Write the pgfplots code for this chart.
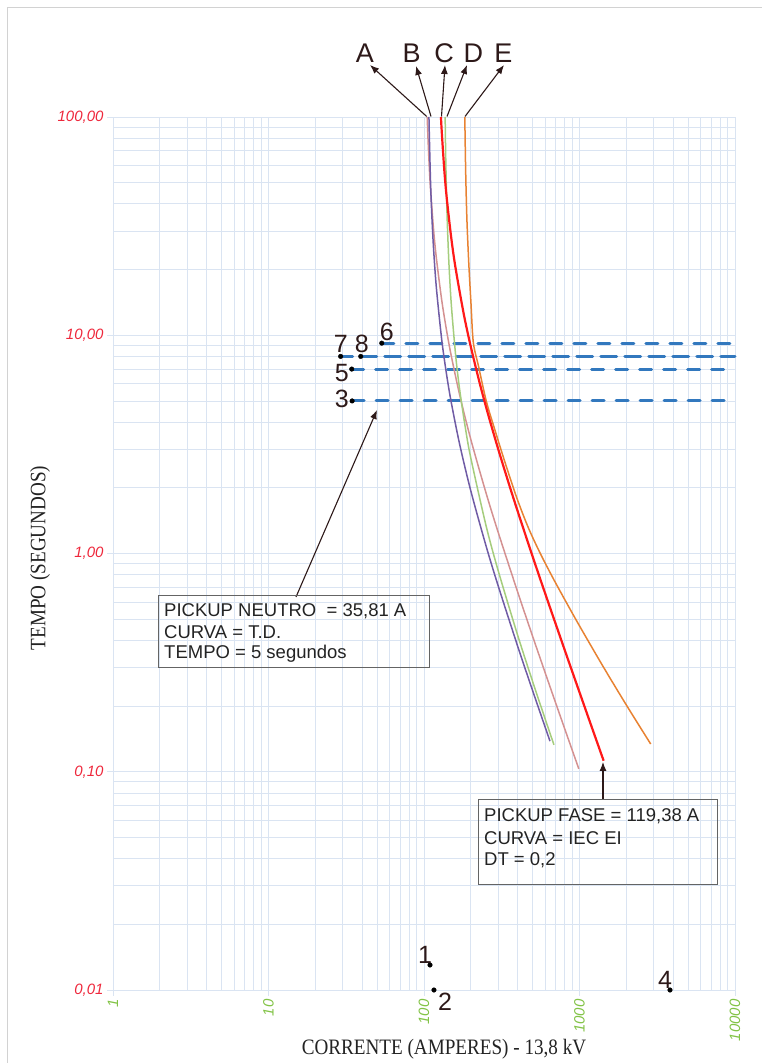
\documentclass[border=0pt]{standalone}
\usepackage{graphicx}
\usepackage{pgfplots}
\pgfplotsset{compat=1.18}
\usepackage{fontspec}
\setmainfont{Liberation Sans}
\newfontfamily\timesf{Liberation Serif}
\usetikzlibrary{arrows.meta}
\definecolor{gridc}{RGB}{218,228,242}
\definecolor{tickred}{RGB}{238,40,60}
\definecolor{tickgreen}{RGB}{130,195,70}
\definecolor{cA}{RGB}{212,145,145}
\definecolor{cB}{RGB}{112,92,165}
\definecolor{cC}{RGB}{255,25,25}
\definecolor{cD}{RGB}{165,205,125}
\definecolor{cE}{RGB}{232,130,50}
\definecolor{dashb}{RGB}{50,120,190}
\definecolor{annot}{RGB}{45,25,25}
\definecolor{txt}{RGB}{35,35,35}
\definecolor{boxc}{RGB}{100,100,100}
\begin{document}
\begin{tikzpicture}
\useasboundingbox (0,0) rectangle (762pt,1063pt);
\begin{axis}[
  at={(113pt,73pt)}, anchor=south west, scale only axis,
  width=622pt, height=873pt,
  xmode=log, ymode=log,
  xmin=1, xmax=10000, ymin=0.01, ymax=100,
  axis lines*=left,
  axis line style={gridc, line width=0.8pt},
  grid=both,
  major grid style={gridc, line width=0.8pt},
  minor grid style={gridc, line width=0.8pt},
  xtick={1,10,100,1000,10000},
  xticklabels={1,10,100,1000,10000},
  minor xtick={2,3,4,5,6,7,8,9,20,30,40,50,60,70,80,90,200,300,400,500,600,700,800,900,2000,3000,4000,5000,6000,7000,8000,9000},
  ytick={0.01,0.1,1,10,100},
  yticklabels={{0,01},{0,10},{1,00},{10,00},{100,00}},
  minor ytick={0.02,0.03,0.04,0.05,0.06,0.07,0.08,0.09,0.2,0.3,0.4,0.5,0.6,0.7,0.8,0.9,2,3,4,5,6,7,8,9,20,30,40,50,60,70,80,90},
  tick style={gridc, line width=0.8pt},
  major tick length=6pt, minor tick length=0pt, tick align=outside,
  yticklabel style={font=\fontsize{15}{15}\selectfont\itshape, text=tickred},
  xticklabel style={font=\fontsize{15}{15}\selectfont\itshape, text=tickgreen, rotate=90, anchor=east},
  clip=false,
]
% dashed horizontal lines (neutral)
\addplot[dashb, line width=3pt, line cap=round, dash pattern=on 12pt off 12pt] coordinates {(53.5,9.2) (10000,9.2)};
\addplot[dashb, line width=3pt, line cap=round, dash pattern=on 12pt off 12pt] coordinates {(29.1,8) (10000,8)};
\addplot[dashb, line width=3pt, line cap=round, dash pattern=on 12pt off 12pt] coordinates {(39.2,8) (10000,8)};
\addplot[dashb, line width=3pt, line cap=round, dash pattern=on 12pt off 12pt] coordinates {(34.3,7) (10000,7)};
\addplot[dashb, line width=3pt, line cap=round, dash pattern=on 12pt off 12pt] coordinates {(34.5,5) (10000,5)};
% A
\addplot[cA, line width=1.5pt, smooth] coordinates {
(104.88,100) (106,80.9) (108,60.1) (110,47.6) (115,31.0) (120,22.7) (130,14.49) (140,10.42) (150,8.0) (170,5.29) (200,3.333) (250,1.905) (300,1.25) (400,0.667) (500,0.4167) (600,0.2857) (700,0.2083) (800,0.1587) (900,0.125) (990,0.1031)};
% B
\addplot[cB, line width=1.5pt, smooth] coordinates {
(107.64,100) (108,87.8) (110,52.2) (112,36.9) (115,25.5) (120,16.63) (130,9.55) (140,6.544) (150,4.890) (170,3.139) (200,1.937) (250,1.090) (300,0.7106) (400,0.3767) (500,0.2348) (646,0.1381)};
% D
\addplot[cD, line width=1.5pt, smooth] coordinates {
(136.81,100) (137.3,81.7) (138,64.7) (140,40.44) (142,29.3) (145,20.62) (150,13.68) (160,8.014) (170,5.561) (185,3.723) (200,2.740) (250,1.3512) (300,0.8342) (400,0.4227) (500,0.2586) (600,0.1754) (685,0.1329)};
% E
\addplot[cE, line width=1.5pt, smooth] coordinates {
(183,100) (185.4,56.2) (188.8,33.9) (194.1,21.4) (200.4,14.1) (207.5,9.29) (223.9,7.24) (251.2,5.01) (281.8,3.80) (331.1,2.63) (395,1.80) (467.7,1.318) (557,1.007) (676,0.771) (827,0.593) (1000,0.466) (1413,0.305) (1995,0.203) (2870,0.134)};
% C
\addplot[cC, line width=2.2pt, smooth] coordinates {
(128.58,100) (130,86.1) (135,57.4) (140,42.63) (150,27.64) (160,20.09) (180,12.56) (200,8.856) (230,5.900) (260,4.274) (300,3.010) (350,2.107) (400,1.5645) (500,0.9672) (600,0.6595) (800,0.3644) (1000,0.2313) (1200,0.1599) (1430,0.1123)};
% points
\addplot[only marks, mark=*, mark size=2.3pt, black] coordinates {
(29.1,8) (39.2,8) (53.5,9.2) (34.3,7) (34.5,5) (109.3,0.01302) (115.9,0.01) (3820,0.01)};
\end{axis}
\begin{scope}[shift={(0pt,1063pt)}, x=1pt, y=-1pt]
\draw[gray!35, line width=0.8pt] (7,1063) -- (7,7) -- (762,7);
% top labels and arrows
\begin{scope}[annot, line width=1.1pt, -{Latex[length=9pt,width=7pt]}]
\draw (426.7,116.5) -- (370,65);
\draw (431,116.5) -- (416,66);
\draw (441.5,116.5) -- (445,65);
\draw (447,116.5) -- (467,65);
\draw (465,116.5) -- (504,65);
\draw (296,597) -- (377,410);
\draw (603,800) -- (603,762);
\end{scope}
\begin{scope}[every node/.style={font=\fontsize{27}{27}\selectfont, text=annot, inner sep=0pt}]
\node at (365,53) {A};
\node at (411.7,53) {B};
\node at (444,53) {C};
\node at (473.3,53) {D};
\node at (503.3,53) {E};
\end{scope}
\begin{scope}[every node/.style={font=\fontsize{25}{25}\selectfont, text=annot, inner sep=0pt}]
\node at (386.7,331.7) {6};
\node at (340.7,344) {7};
\node at (361.7,344) {8};
\node at (341.7,373) {5};
\node at (341.7,399) {3};
\node at (425,955) {1};
\node at (445,1002) {2};
\node at (665,980) {4};
\end{scope}
% boxes
\draw[boxc, line width=1pt] (158.3,596) rectangle (429.3,667.3);
\draw[boxc, line width=1pt] (478.3,799.3) rectangle (717.3,885);
\begin{scope}[every node/.style={font=\fontsize{18.5}{18.5}\selectfont, text=txt, inner sep=0pt, anchor=base west}]
\node at (164,616.7) {PICKUP NEUTRO\ \ = 35,81 A};
\node at (164,638.3) {CURVA = T.D.};
\node at (164,658.3) {TEMPO = 5 segundos};
\node at (484,821.7) {PICKUP FASE = 119,38 A};
\node at (484,845) {CURVA = IEC EI};
\node at (484,866) {DT = 0,2};
\end{scope}
% axis titles
\node[font=\timesf\fontsize{22}{22}\selectfont, text=txt, inner sep=0pt] at (444,1049) {\scalebox{0.87}[1]{CORRENTE (AMPERES) - 13,8 kV}};
\node[font=\timesf\fontsize{22}{22}\selectfont, text=txt, inner sep=0pt, rotate=90] at (40,558) {\scalebox{0.87}[1]{TEMPO (SEGUNDOS)}};
\end{scope}
\end{tikzpicture}
\end{document}
